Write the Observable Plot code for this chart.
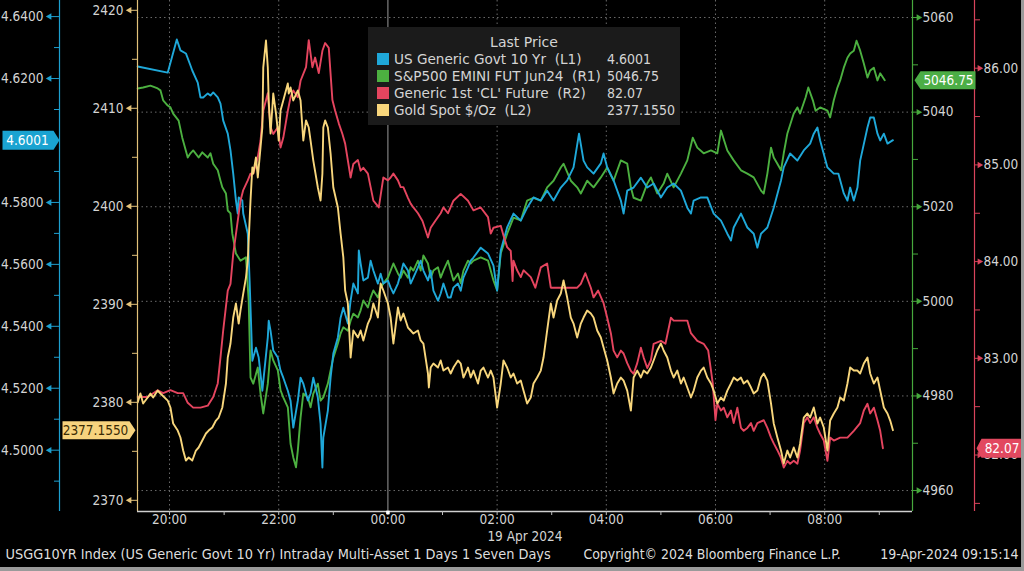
<!DOCTYPE html>
<html>
<head>
<meta charset="utf-8">
<script src="https://cdn.jsdelivr.net/npm/d3@7"></script>
<script src="https://cdn.jsdelivr.net/npm/@observablehq/plot@0.6"></script>
<style>
  html, body { margin:0; padding:0; background:#000; }
  #chart { position:relative; width:1024px; height:571px; overflow:hidden; background:#000;
    font-family:"DejaVu Sans Condensed","DejaVu Sans",sans-serif; }
  #chart svg { display:block; }
  #legend { position:absolute; left:368px; top:27px; width:312px; height:98px; background:#1b1b1b;
    color:#d4d4d4; font-size:13.6px; font-family:"DejaVu Sans","DejaVu Sans Condensed",sans-serif; }
  #legend .hdr { position:absolute; left:0; width:100%; top:7px; text-align:center; line-height:17px; font-size:14px; }
  #legend .row { position:absolute; left:0; width:100%; height:17px; line-height:17px; white-space:pre; }
  #legend .sw { position:absolute; left:9px; top:2px; width:12px; height:12px; }
  #legend .nm { position:absolute; left:26px; top:0; }
  #legend .vl { position:absolute; left:239px; top:0; font-size:14px; font-family:"DejaVu Sans Condensed","DejaVu Sans",sans-serif; }
  #edgeR { position:absolute; left:1021px; top:0; width:3px; height:571px; background:#9a9a9a; }
  #edgeB { position:absolute; left:0; top:567px; width:1024px; height:4px; background:#9a9a9a; }
</style>
</head>
<body>
<div id="chart"></div>
<script>
// ---------- DATA (minutes after 18 Apr 2024 20:00, values) ----------
const seriesNames = ["US Generic Govt 10 Yr  (L1)", "S&P500 EMINI FUT Jun24  (R1)", "Generic 1st 'CL' Future  (R2)", "Gold Spot $/Oz  (L2)"];
const lastPrices = ["4.6001", "5046.75", "82.07", "2377.1550"];

const usgTimes = [-35,-2,8,12,18,23,25,31,34,37,42,45,48,53,56,59,64,67,70,73,75,76,80,81,86,88,91,95,98,102,108,109,111,114,119,122,125,130,133,136,141,144,147,152,155,158,163,166,168,169,174,177,180,185,188,191,196,199,202,207,208,210,213,218,221,224,229,232,235,240,243,246,251,254,257,262,265,268,273,276,279,284,287,290,295,298,301,306,309,312,317,320,323,328,331,334,342,350,356,360,364,371,378,386,393,400,408,415,422,430,437,444,450,455,459,466,474,477,481,488,496,499,503,510,518,525,532,540,547,554,562,569,573,576,584,591,598,606,613,617,620,628,635,642,646,650,657,664,672,675,682,690,697,704,708,712,715,723,730,735,741,745,748,752,756,759,767,770,774,778,781,785,789,795];
const usgValues = [4.6239,4.6219,4.6326,4.6291,4.6281,4.6242,4.6226,4.6187,4.6139,4.6139,
4.6152,4.6145,4.6155,4.6139,4.6119,4.6064,4.6022,4.5968,4.5893,4.5806,
4.5764,4.5816,4.5806,4.5764,4.5699,4.5548,4.5289,4.5331,4.5299,4.5192,
4.5364,4.5418,4.5386,4.5322,4.5299,4.5257,4.5234,4.5192,4.5160,4.5073,
4.5160,4.5234,4.5215,4.5160,4.5183,4.5234,4.5170,4.5086,4.4944,4.5041,
4.5128,4.5234,4.5312,4.5364,4.5428,4.5460,4.5409,4.5483,4.5538,4.5506,
4.5645,4.5603,4.5548,4.5557,4.5612,4.5580,4.5538,4.5570,4.5538,4.5548,
4.5525,4.5506,4.5538,4.5570,4.5603,4.5580,4.5538,4.5557,4.5590,4.5612,
4.5580,4.5548,4.5580,4.5515,4.5483,4.5506,4.5538,4.5493,4.5493,4.5525,
4.5538,4.5515,4.5557,4.5590,4.5612,4.5622,4.5654,4.5635,4.5596,4.5515,
4.5645,4.5719,4.5764,4.5741,4.5783,4.5816,4.5806,4.5838,4.5806,4.5848,
4.5871,4.5913,4.6022,4.5935,4.5913,4.5893,4.5926,4.5958,4.5913,4.5871,
4.5806,4.5764,4.5838,4.5848,4.5880,4.5848,4.5861,4.5816,4.5848,4.5861,
4.5838,4.5783,4.5764,4.5806,4.5816,4.5816,4.5764,4.5741,4.5699,4.5677,
4.5719,4.5764,4.5719,4.5699,4.5654,4.5699,4.5719,4.5783,4.5871,4.5913,
4.5958,4.5935,4.5968,4.5990,4.6022,4.6042,4.6000,4.5913,4.5893,4.5893,
4.5829,4.5806,4.5848,4.5806,4.5848,4.5935,4.6042,4.6074,4.6074,4.6022,
4.6000,4.6022,4.5990,4.6001];

const spxTimes = [-35,-29,-21,-13,-10,-7,-2,1,4,10,14,20,23,26,32,36,42,45,48,53,56,58,62,64,67,69,73,78,84,87,89,92,97,100,103,108,111,114,119,122,125,130,133,136,139,141,144,147,152,155,158,163,166,169,174,177,180,185,188,191,196,199,202,207,210,213,218,221,224,229,232,235,240,243,246,251,254,257,262,265,268,273,276,279,284,287,290,295,298,301,306,309,312,317,320,323,328,331,334,342,350,356,360,364,371,378,386,393,400,408,415,422,430,433,441,448,452,459,466,474,481,488,496,503,507,510,518,525,529,536,543,547,554,562,569,575,580,587,595,602,606,613,620,628,635,642,650,653,657,661,664,668,672,675,679,686,690,693,699,702,707,710,715,723,726,730,734,737,741,745,748,752,755,759,763,767,770,774,778,781,786];
const spxValues = [5045.0,5045.2,5045.6,5045.0,5044.6,5042.5,5041.4,5041.0,5039.7,5038.2,
5034.6,5030.4,5031.3,5031.9,5030.4,5031.5,5030.4,5031.3,5029.1,5027.7,
5025.5,5024.1,5022.8,5019.2,5018.6,5014.3,5010.1,5008.6,5009.3,5000.2,
4983.9,4982.6,4986.0,4980.5,4976.3,4982.6,4989.6,4987.5,4985.4,4981.2,
4979.7,4977.6,4969.9,4967.0,4964.9,4968.5,4975.4,4980.5,4979.7,4977.6,
4980.5,4982.6,4979.0,4979.7,4982.6,4985.4,4988.1,4991.1,4993.2,4994.5,
4993.8,4995.9,4997.4,4996.6,4998.1,5000.2,4998.7,5000.8,5002.3,5000.8,
5002.9,5003.8,5005.0,5006.5,5008.0,5005.9,5005.0,5006.5,5005.0,5007.2,
5006.5,5008.6,5006.5,5009.7,5008.0,5005.0,5006.5,5007.2,5005.0,5006.5,
5008.6,5006.5,5004.4,5005.9,5003.8,5006.5,5008.6,5008.0,5008.6,5009.3,
5008.6,5004.4,5002.3,5010.1,5014.3,5017.7,5017.1,5021.3,5021.9,5021.3,
5024.1,5025.5,5028.3,5029.1,5025.5,5024.1,5022.8,5025.5,5024.1,5026.2,
5028.3,5025.5,5029.8,5029.1,5024.1,5021.9,5021.3,5024.9,5026.2,5022.8,
5024.9,5027.0,5024.1,5027.0,5029.8,5034.6,5032.5,5031.3,5031.9,5031.3,
5036.1,5031.9,5029.8,5027.7,5027.0,5026.2,5023.4,5022.8,5027.0,5032.5,
5030.4,5029.1,5027.7,5031.3,5035.5,5039.7,5041.0,5039.7,5043.1,5045.2,
5042.5,5040.3,5041.0,5040.3,5038.9,5042.5,5045.2,5046.7,5049.4,5051.5,
5052.4,5053.0,5055.1,5053.0,5050.3,5047.3,5048.8,5049.4,5046.7,5048.2,
5046.75];

const clTimes = [-35,-24,-13,-7,1,9,15,20,26,34,42,48,53,56,59,64,67,70,78,81,86,89,92,97,100,103,108,111,114,119,122,125,130,133,136,141,144,150,153,157,160,164,168,171,175,179,182,186,190,193,199,202,207,210,213,218,221,224,230,235,240,243,246,251,254,257,262,265,268,273,278,284,287,292,298,301,306,312,320,328,334,342,350,353,356,364,367,371,375,377,378,382,386,389,397,402,408,415,419,426,437,448,452,457,463,466,471,477,481,485,488,492,496,499,503,507,510,514,518,521,525,529,532,540,545,551,554,562,569,573,580,587,592,597,600,602,606,609,613,617,620,624,628,631,635,639,642,646,653,657,661,664,668,672,675,679,682,686,690,693,697,701,704,708,712,715,719,723,726,730,737,745,752,759,763,767,770,774,778,781,784];
const clValues = [82.60,82.60,82.67,82.64,82.67,82.64,82.64,82.54,82.49,82.49,
82.51,82.60,82.74,83.01,83.29,83.70,83.77,84.08,84.63,84.74,
84.84,84.91,84.91,85.08,85.25,85.56,85.74,85.39,85.32,85.39,
85.18,85.28,85.56,85.70,85.77,85.70,85.87,86.01,86.29,86.01,
86.11,85.95,86.18,86.26,86.21,85.67,85.56,85.43,85.32,85.22,
84.87,85.01,85.05,84.94,84.97,84.91,84.77,84.63,84.56,84.87,
84.84,84.87,84.91,84.84,84.77,84.77,84.66,84.60,84.56,84.50,
84.42,84.25,84.35,84.42,84.50,84.56,84.50,84.63,84.70,84.63,
84.53,84.56,84.46,84.29,84.35,84.37,84.27,84.15,84.11,83.80,
84.01,83.91,83.84,83.91,83.84,83.73,83.94,83.98,83.73,83.73,
83.73,83.73,83.77,83.88,83.73,83.63,83.70,83.57,83.42,83.26,
83.08,83.01,83.08,83.05,82.95,82.87,82.84,82.95,83.11,83.01,
82.90,82.98,83.15,83.18,83.15,83.42,83.39,83.39,83.39,83.26,
83.18,83.15,83.08,82.74,82.36,82.53,82.46,82.49,82.39,82.46,
82.33,82.49,82.28,82.25,82.28,82.33,82.25,82.33,82.36,82.28,
82.18,82.12,82.05,81.97,81.87,81.94,81.91,81.94,81.91,82.05,
82.33,82.39,82.33,82.39,82.28,82.22,82.15,81.94,82.18,82.15,
82.18,82.18,82.25,82.33,82.46,82.53,82.43,82.49,82.36,82.25,
82.07];

const goldTimes = [-35,-32,-29,-24,-21,-18,-13,-10,-2,1,4,9,12,15,18,21,25,29,32,36,40,43,47,51,54,58,62,64,67,70,73,76,78,81,84,86,89,91,92,95,97,100,102,103,106,108,109,111,113,114,117,119,120,122,125,130,131,133,136,141,144,146,147,150,153,155,158,163,166,168,169,171,174,177,180,185,188,191,193,196,199,202,207,210,213,218,221,224,229,232,235,240,243,246,251,254,257,262,265,268,273,276,279,284,285,287,290,295,298,301,306,309,312,317,320,323,328,331,334,339,342,345,350,353,356,360,364,367,371,375,378,382,386,389,393,397,400,404,408,411,415,419,422,426,430,433,437,441,444,448,452,455,459,463,466,470,474,477,481,485,488,492,496,499,503,507,510,514,518,521,525,529,532,536,540,543,547,551,554,558,562,565,569,573,576,580,584,587,591,595,598,602,606,609,613,617,620,624,628,631,635,639,642,646,650,653,657,661,664,668,672,675,679,682,686,690,693,697,701,704,708,712,715,719,723,726,730,734,737,741,745,748,752,756,759,763,767,770,774,778,781,785,789,792,795];
const goldValues = [2379.98,2380.90,2379.88,2380.49,2380.90,2380.49,2381.20,2380.90,2380.18,2379.47,
2377.84,2377.12,2376.41,2375.08,2374.06,2374.37,2374.06,2375.08,2375.39,2376.10,
2376.82,2377.12,2377.43,2378.14,2378.45,2379.47,2381.92,2384.57,2386.00,2388.65,
2390.08,2388.04,2389.37,2391.10,2392.73,2394.47,2400.59,2403.96,2403.35,2404.98,
2402.94,2406.00,2408.04,2414.16,2416.92,2414.16,2410.80,2407.43,2410.08,2411.51,
2409.47,2407.73,2406.71,2409.78,2410.80,2412.53,2411.51,2412.12,2410.80,2411.82,
2410.80,2408.04,2406.71,2408.76,2408.04,2406.71,2404.67,2401.92,2400.59,2403.35,
2408.04,2408.76,2408.04,2405.39,2401.92,2399.88,2397.22,2394.78,2391.41,2390.08,
2384.57,2387.33,2386.61,2387.33,2386.31,2388.04,2388.65,2390.08,2388.65,2392.12,
2391.41,2390.08,2388.65,2386.00,2389.67,2388.35,2389.06,2387.63,2387.33,2387.02,
2387.33,2386.31,2386.00,2382.94,2381.51,2383.55,2383.96,2383.55,2384.27,2383.24,
2383.55,2382.94,2383.55,2384.27,2383.96,2382.53,2383.55,2382.53,2383.24,2381.92,
2383.24,2383.55,2382.53,2383.24,2382.53,2379.47,2381.92,2384.27,2383.55,2382.53,
2382.94,2381.92,2382.22,2381.20,2379.88,2380.49,2381.92,2382.53,2383.24,2384.57,
2387.33,2390.08,2388.65,2390.39,2391.10,2392.43,2390.69,2388.65,2388.04,2386.61,
2388.04,2388.65,2389.37,2389.06,2388.65,2387.33,2386.61,2385.59,2384.27,2382.53,
2380.90,2381.92,2382.53,2382.22,2381.20,2379.16,2382.53,2383.24,2382.53,2383.24,
2382.94,2383.55,2384.27,2385.29,2386.00,2385.29,2384.57,2383.24,2382.53,2383.24,
2381.92,2382.53,2381.51,2380.49,2381.20,2382.53,2383.24,2383.55,2382.53,2381.92,
2381.20,2379.88,2380.49,2380.18,2381.20,2381.92,2382.53,2382.22,2382.53,2381.92,
2382.22,2381.51,2380.90,2381.20,2382.53,2382.94,2382.22,2379.88,2377.84,2376.41,
2375.08,2373.76,2375.08,2374.37,2375.39,2374.37,2375.80,2378.45,2378.86,2378.45,
2379.47,2377.84,2378.45,2377.43,2375.08,2378.14,2378.86,2379.47,2380.49,2380.18,
2381.92,2383.55,2383.24,2383.24,2382.94,2383.96,2384.57,2382.94,2381.92,2382.53,
2381.20,2379.47,2378.86,2378.14,2377.155];

// axis tick values (4.60 label sits under the last-price tag, as in the reference)
const usgMajor = [4.50,4.52,4.54,4.56,4.58,4.62,4.64];
const usgHidden = [4.60];
const usgMinor = [4.49,4.51,4.53,4.55,4.57,4.59,4.61,4.63];
const goldMajor = [2370,2380,2390,2400,2410,2420];
const goldMinor = [2375,2385,2395,2405,2415];
const spxMajor = [4960,4980,5000,5020,5040,5060];
const spxMinor = [4970,4990,5010,5030,5050];
const clMajor = [82,83,84,85,86];
const clMinor = [81.5,82.5,83.5,84.5,85.5,86.5];
const dateLabel = "19 Apr 2024";
const footerLeft = "USGG10YR Index (US Generic Govt 10 Yr) Intraday Multi-Asset 1 Days 1 Seven Days";
const footerMid = "Copyright\u00A9 2024 Bloomberg Finance L.P.";
const footerRight = "19-Apr-2024 09:15:14";

// ---------- SCALES ----------
const base = Date.UTC(2024, 3, 18, 20, 0);
const t = m => new Date(base + m * 60000);
const axisDomains = {usg:[4.4802,4.6452], gold:[2368.86,2421.0], spx:[4955.57,5063.6], cl:[81.416,86.70]};
const norm = {};
for (const k in axisDomains) norm[k] = d3.scaleLinear().domain(axisDomains[k]).range([0,1]);
const colors = {usg:"#1fa8d9", spx:"#4cb040", cl:"#e5455f", gold:"#f8d67c"};
const axisColors = {usg:"#1d9fcf", spx:"#46a83c", cl:"#d9435b", gold:"#e3c27a"};
const labelColor = "#d4d4d4";
const FONT = "'DejaVu Sans Condensed','DejaVu Sans',sans-serif";

const rows = (times, vals, k) => times.map((m, i) => ({date: t(m), y: norm[k](vals[i])}));
const usgRows = rows(usgTimes, usgValues, "usg");
const spxRows = rows(spxTimes, spxValues, "spx");
const clRows = rows(clTimes, clValues, "cl");
const goldRows = rows(goldTimes, goldValues, "gold");

const xDomain = [t(-35.2), t(816.5)];
const evenHours = d3.utcHour.every(2).range(xDomain[0], xDomain[1]);
const allHours = d3.utcHour.range(xDomain[0], xDomain[1]);
const midnight = new Date(Date.UTC(2024, 3, 19, 0, 0));
const gridHours = evenHours.filter(d => +d !== +midnight);

function tagShape(w, h, tip, dir) {
  return {draw(ctx) {
    const a = w / 2, b = h / 2;
    if (dir > 0) { ctx.moveTo(-a,-b); ctx.lineTo(a,-b); ctx.lineTo(a+tip,0); ctx.lineTo(a,b); ctx.lineTo(-a,b); ctx.closePath(); }
    else { ctx.moveTo(a,-b); ctx.lineTo(-a,-b); ctx.lineTo(-a-tip,0); ctx.lineTo(-a,b); ctx.lineTo(a,b); ctx.closePath(); }
  }};
}

function yAxis(k, major, minor, hidden, fmt, anchor, dx, tickSize, pad) {
  const side = anchor === "left" ? -1 : 1;
  const allMajor = major.concat(hidden);
  return [
    Plot.ruleX([anchor === "left" ? xDomain[0] : xDomain[1]], {stroke: axisColors[k], strokeWidth: 1.2, dx}),
    Plot.axisY(minor.map(norm[k]), {anchor, dx, tickSize: 5, stroke: axisColors[k], fill: "none", label: null}),
    Plot.axisY(allMajor.map(norm[k]), {anchor, dx, tickSize, stroke: axisColors[k], fill: "none", label: null}),
    Plot.axisY(major.map(norm[k]), {anchor, dx, tickSize, tickPadding: pad, stroke: "none", fill: labelColor,
      fontSize: 13.5, fontFamily: FONT, label: null, tickFormat: d => fmt(norm[k].invert(d))}),
    Plot.dot(allMajor.map(norm[k]), {y: d => d, frameAnchor: anchor, dx: dx + side * (tickSize - 1), symbol: "triangle",
      rotate: side * 90, r: 2.4, fill: axisColors[k], stroke: "none"})
  ];
}

const tagText = {fontSize: 13.5, fontFamily: FONT, textAnchor: "middle"};
const footStyle = {fill: "#dedede", fontFamily: FONT};

const chart = Plot.plot({
  width: 1024, height: 571,
  marginLeft: 137, marginRight: 112, marginTop: 0, marginBottom: 60,
  style: {background: "#000", color: labelColor, fontFamily: FONT, overflow: "visible"},
  x: {type: "utc", domain: xDomain},
  y: {domain: [0, 1]},
  marks: [
    Plot.ruleY(spxMajor.map(norm.spx), {stroke: "#6a6a6a", strokeDasharray: "1.5,3"}),
    Plot.ruleX(gridHours, {stroke: "#6a6a6a", strokeDasharray: "1.5,3"}),
    Plot.ruleX([midnight], {stroke: "#9a9a9a", strokeWidth: 1}),
    Plot.line(spxRows, {x: "date", y: "y", stroke: colors.spx, strokeWidth: 1.9}),
    Plot.line(usgRows, {x: "date", y: "y", stroke: colors.usg, strokeWidth: 1.9}),
    Plot.line(clRows, {x: "date", y: "y", stroke: colors.cl, strokeWidth: 1.9}),
    Plot.line(goldRows, {x: "date", y: "y", stroke: colors.gold, strokeWidth: 1.9}),
    // y axes
    ...yAxis("usg", usgMajor, usgMinor, usgHidden, d3.format(".4f"), "left", -78, 11, 5),
    ...yAxis("gold", goldMajor, goldMinor, [], d3.format(".0f"), "left", 0, 9, 5),
    ...yAxis("spx", spxMajor, spxMinor, [], d3.format(".0f"), "right", 0, 7, 3),
    ...yAxis("cl", clMajor, clMinor, [], d3.format(".2f"), "right", 62, 6, 3),
    // x axis
    Plot.ruleY([0], {stroke: "#cfcfcf", strokeWidth: 1.4}),
    Plot.axisX(allHours, {anchor: "bottom", tickSize: 4, stroke: "#bdbdbd", fill: "none", label: null}),
    Plot.axisX(evenHours, {anchor: "bottom", tickSize: 0, tickPadding: 3, fill: labelColor, fontSize: 13.5,
      fontFamily: FONT, label: null, tickFormat: d3.utcFormat("%H:%M")}),
    Plot.dot([midnight], {x: d => d, frameAnchor: "bottom", symbol: "square", r: 2, fill: "#fff", dy: 1}),
    Plot.text([dateLabel], {x: [midnight], frameAnchor: "bottom", dx: 137, dy: 29, fill: labelColor, fontSize: 13.5, fontFamily: FONT}),
    // last-value tags
    Plot.dot([lastPrices[0]], {y: norm.usg(+lastPrices[0]), frameAnchor: "left", dx: -109.5, symbol: tagShape(51, 19, 6, 1), fill: "#1aa3d1"}),
    Plot.text([lastPrices[0]], {y: norm.usg(+lastPrices[0]), frameAnchor: "left", dx: -110, fill: "#fff", ...tagText}),
    Plot.dot([lastPrices[3]], {y: norm.gold(+lastPrices[3]), frameAnchor: "left", dx: -41.5, symbol: tagShape(67, 18, 6, 1), fill: "#f7d37e"}),
    Plot.text([lastPrices[3]], {y: norm.gold(+lastPrices[3]), frameAnchor: "left", dx: -42, fill: "#3a2c05", ...tagText}),
    Plot.dot([lastPrices[1]], {y: norm.spx(+lastPrices[1]), frameAnchor: "right", dx: 35.5, symbol: tagShape(55, 18, 6, -1), fill: "#4cae46"}),
    Plot.text([lastPrices[1]], {y: norm.spx(+lastPrices[1]), frameAnchor: "right", dx: 36, fill: "#fff", ...tagText}),
    Plot.dot([lastPrices[2]], {y: norm.cl(+lastPrices[2]), frameAnchor: "right", dx: 89, symbol: tagShape(40, 19, 5, -1), fill: "#e2485f"}),
    Plot.text([lastPrices[2]], {y: norm.cl(+lastPrices[2]), frameAnchor: "right", dx: 89.5, fill: "#fff", ...tagText}),
    // footer
    Plot.text([footerLeft], {frameAnchor: "bottom-left", dx: -132, dy: 47, textAnchor: "start", fontSize: 14.4, ...footStyle}),
    Plot.text([footerMid], {frameAnchor: "bottom-left", dx: 446, dy: 47, textAnchor: "start", fontSize: 13.9, ...footStyle}),
    Plot.text([footerRight], {frameAnchor: "bottom-right", dx: 106, dy: 47, textAnchor: "end", fontSize: 14, ...footStyle})
  ]
});

const root = document.getElementById("chart");
root.appendChild(chart);

// legend overlay
const legend = document.createElement("div");
legend.id = "legend";
const hdr = document.createElement("div");
hdr.className = "hdr"; hdr.textContent = "Last Price";
legend.appendChild(hdr);
const legendColors = [colors.usg, colors.spx, colors.cl, colors.gold];
seriesNames.forEach((name, i) => {
  const r = document.createElement("div");
  r.className = "row"; r.style.top = (24 + i * 17) + "px";
  const sw = document.createElement("div"); sw.className = "sw"; sw.style.background = legendColors[i];
  const nm = document.createElement("span"); nm.className = "nm"; nm.textContent = name;
  const vl = document.createElement("span"); vl.className = "vl"; vl.textContent = lastPrices[i];
  r.append(sw, nm, vl);
  legend.appendChild(r);
});
root.appendChild(legend);
const eR = document.createElement("div"); eR.id = "edgeR"; root.appendChild(eR);
const eB = document.createElement("div"); eB.id = "edgeB"; root.appendChild(eB);
</script>
</body>
</html>
